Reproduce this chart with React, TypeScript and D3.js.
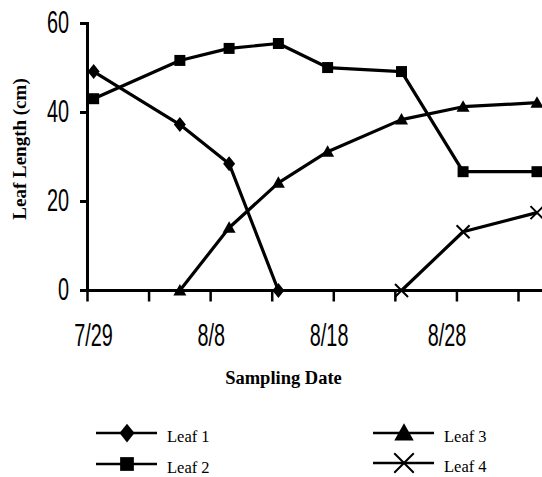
import React from "react";
import * as d3 from "d3";

// ---- data ----
const sampleDates = ["7/29", "8/5", "8/9", "8/13", "8/17", "8/23", "8/28", "9/3"];
const leaf1: (number | null)[] = [49.2, 37.3, 28.5, 0, null, null, null, null];
const leaf2: (number | null)[] = [43.1, 51.7, 54.4, 55.5, 50.1, 49.2, 26.7, 26.7];
const leaf3: (number | null)[] = [null, 0, 14.1, 24.2, 31.2, 38.4, 41.3, 42.2];
const leaf4: (number | null)[] = [null, null, null, null, null, 0, 13.2, 17.5];
const seriesNames = ["Leaf 1", "Leaf 2", "Leaf 3", "Leaf 4"];
const yTickValues = [0, 20, 40, 60];
const xTickLabels = ["7/29", "8/8", "8/18", "8/28"];

const W = 542;
const H = 477;

const parse = (s: string) => d3.timeParse("%m/%d/%Y")(s + "/2008") as Date;
// samples are plotted at mid-day of each date
const atNoon = (s: string) => d3.timeHour.offset(parse(s), 12);

const markerPaths: Record<string, string> = {
  diamond: "M0,-7.5L6,0L0,7.5L-6,0Z",
  square: "M-5.5,-5.5H5.5V5.5H-5.5Z",
  triangle: "M0,-6.5L6.5,5L-6.5,5Z",
  x: "M-6.5,-6.5L6.5,6.5M-6.5,6.5L6.5,-6.5",
};
const markerKinds = ["diamond", "square", "triangle", "x"];

function Marker({ kind, x, y, s = 1 }: { kind: string; x: number; y: number; s?: number }) {
  const isX = kind === "x";
  return (
    <path
      d={markerPaths[kind]}
      transform={`translate(${x},${y}) scale(${s})`}
      fill={isX ? "none" : "#000"}
      stroke="#000"
      strokeWidth={isX ? 2 / s : 0}
    />
  );
}

export default function App() {
  const x = d3
    .scaleTime()
    .domain([parse("7/29"), parse("9/2")])
    .range([87.5, 518.5]);
  const y = d3.scaleLinear().domain([0, 60]).range([290.5, 23.5]);

  const tickDates = d3.timeDay.range(parse("7/29"), d3.timeDay.offset(parse("9/2"), 1), 5);
  const xEnd = W;

  const allSeries = [leaf1, leaf2, leaf3, leaf4];
  const line = d3
    .line<{ d: Date; v: number | null }>()
    .defined((p) => p.v !== null)
    .x((p) => x(p.d))
    .y((p) => y(p.v as number));

  const seriesPts = allSeries.map((vals) =>
    vals.map((v, i) => ({ d: atNoon(sampleDates[i]), v }))
  );

  // label positions follow the ticks with a slight drift, as in the original
  const labelX = d3
    .scaleLinear()
    .domain([x(parse("7/29")), x(parse("8/28"))])
    .range([x(parse("7/29")) + 6, x(parse("8/28")) - 10]);

  const condensed = 0.62;
  const tickFont = "'Liberation Sans', Arial, sans-serif";
  const serif = "'Liberation Serif', 'Times New Roman', serif";

  const legendItems = [
    { name: seriesNames[0], kind: markerKinds[0], lx: 96, ly: 433 },
    { name: seriesNames[1], kind: markerKinds[1], lx: 96, ly: 464 },
    { name: seriesNames[2], kind: markerKinds[2], lx: 373, ly: 433 },
    { name: seriesNames[3], kind: markerKinds[3], lx: 373, ly: 463 },
  ];

  return (
    <svg
      width={W}
      height={H}
      style={{ position: "absolute", left: 0, top: 0, background: "#fff" }}
    >
      <rect width={W} height={H} fill="#fff" />
      {/* axes */}
      <line x1={x.range()[0]} x2={x.range()[0]} y1={y(60) - 1.5} y2={y(0) + 1.5} stroke="#000" strokeWidth={3} />
      <line x1={80} x2={xEnd} y1={y(0)} y2={y(0)} stroke="#000" strokeWidth={3.2} />
      {yTickValues.map((t) => (
        <g key={"yt" + t}>
          <line x1={80} x2={x.range()[0]} y1={y(t)} y2={y(t)} stroke="#000" strokeWidth={3} />
          <text
            transform={`translate(69,${y(t) - 1}) scale(${condensed},1)`}
            textAnchor="end"
            dominantBaseline="central"
            fontFamily={tickFont}
            fontSize={32}
            fill="#000"
          >
            {t}
          </text>
        </g>
      ))}
      {tickDates.map((d, i) => (
        <line key={"xt" + i} x1={x(d)} x2={x(d)} y1={y(0)} y2={y(0) + 11} stroke="#000" strokeWidth={2.5} />
      ))}
      {xTickLabels.map((s) => (
        <text
          key={"xl" + s}
          transform={`translate(${labelX(x(parse(s)))},346) scale(${condensed},1)`}
          textAnchor="middle"
          fontFamily={tickFont}
          fontSize={32}
          fill="#000"
        >
          {s}
        </text>
      ))}
      <text x={283.5} y={384} textAnchor="middle" fontFamily={serif} fontWeight="bold" fontSize={18.5} fill="#000">
        Sampling Date
      </text>
      <text
        transform={`translate(26,149) rotate(-90)`}
        textAnchor="middle"
        fontFamily={serif}
        fontWeight="bold"
        fontSize={19}
        fill="#000"
      >
        Leaf Length (cm)
      </text>

      {/* series */}
      {seriesPts.map((pts, si) => (
        <g key={"s" + si}>
          <path d={line(pts) || ""} fill="none" stroke="#000" strokeWidth={3.2} strokeLinejoin="round" />
          {pts
            .filter((p) => p.v !== null)
            .map((p, i) => (
              <Marker key={i} kind={markerKinds[si]} x={x(p.d)} y={y(p.v as number)} />
            ))}
        </g>
      ))}

      {/* legend */}
      {legendItems.map((it) => (
        <g key={it.name}>
          <line x1={it.lx} x2={it.lx + 61} y1={it.ly} y2={it.ly} stroke="#000" strokeWidth={2.5} />
          <Marker kind={it.kind} x={it.lx + 31} y={it.ly} s={it.kind === "x" || it.kind === "triangle" ? 1.5 : 1.25} />
          <text x={it.lx + 71} y={it.ly + 9} fontFamily={serif} fontSize={16.5} fill="#000">
            {it.name}
          </text>
        </g>
      ))}
    </svg>
  );
}
